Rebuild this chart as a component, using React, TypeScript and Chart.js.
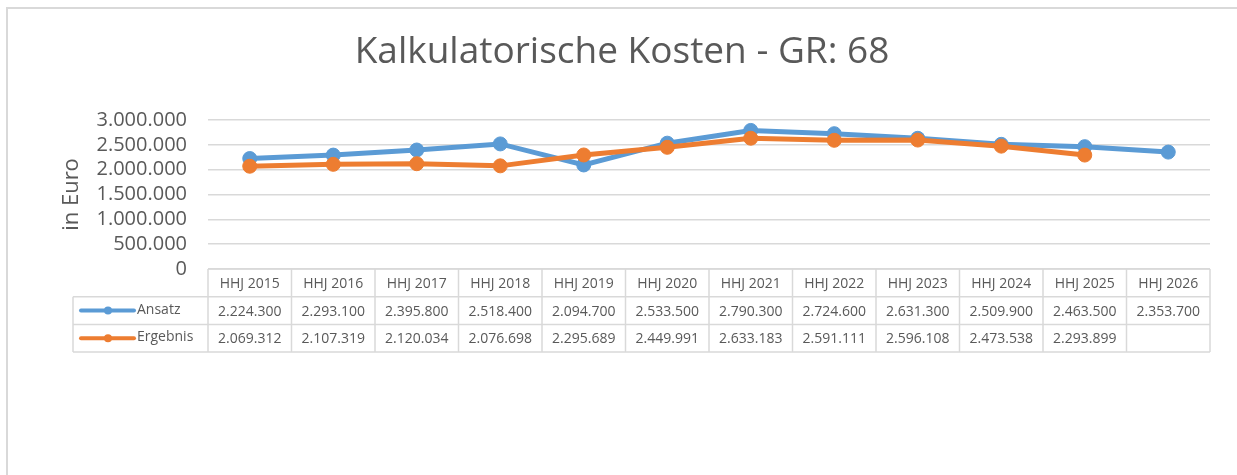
import { useEffect, useRef } from "react";
import { Chart, registerables } from "chart.js";

Chart.register(...registerables);

const titleText = "Kalkulatorische Kosten - GR: 68";
const yAxisTitle = "in Euro";
const categories = [
  "HHJ 2015", "HHJ 2016", "HHJ 2017", "HHJ 2018", "HHJ 2019", "HHJ 2020",
  "HHJ 2021", "HHJ 2022", "HHJ 2023", "HHJ 2024", "HHJ 2025", "HHJ 2026",
];
const seriesNames = ["Ansatz", "Ergebnis"];
const ansatz = [
  2224300, 2293100, 2395800, 2518400, 2094700, 2533500,
  2790300, 2724600, 2631300, 2509900, 2463500, 2353700,
];
const ergebnis: (number | null)[] = [
  2069312, 2107319, 2120034, 2076698, 2295689, 2449991,
  2633183, 2591111, 2596108, 2473538, 2293899, null,
];
const yMin = 0;
const yMax = 3000000;
const yStep = 500000;

const FONT = "'Open Sans', 'Noto Sans', sans-serif";
const TEXT = "#595959";
const GRID = "#D9D9D9";
const BLUE = "#5B9BD5";
const ORANGE = "#ED7D31";

const fmt = (v: number) =>
  String(Math.round(v)).replace(/\B(?=(\d{3})+(?!\d))/g, ".");

const framePlugin = {
  id: "frame",
  beforeDraw(chart: any) {
    const ctx = chart.ctx;
    ctx.save();
    ctx.strokeStyle = GRID;
    ctx.lineWidth = 2;
    ctx.strokeRect(7, 8, 1400, 1000);
    ctx.restore();
  },
};

const tablePlugin = {
  id: "dataTable",
  afterDraw(chart: any) {
    const { ctx, chartArea } = chart;
    const xs = chart.scales.x;
    const n = categories.length;
    const cw = (chartArea.right - chartArea.left) / n;
    const top = chartArea.bottom;
    const rowH = 27.7;
    const legendLeft = 73;
    const right = chartArea.right;
    const line = (x1: number, y1: number, x2: number, y2: number) => {
      ctx.beginPath();
      ctx.moveTo(x1, y1);
      ctx.lineTo(x2, y2);
      ctx.stroke();
    };
    ctx.save();
    ctx.strokeStyle = GRID;
    ctx.lineWidth = 1.5;
    line(chartArea.left, top, right, top);
    for (let r = 1; r <= 3; r++) line(legendLeft, top + r * rowH, right, top + r * rowH);
    line(legendLeft, top + rowH, legendLeft, top + 3 * rowH);
    for (let i = 0; i < n; i++) {
      const xl = xs.getPixelForValue(i) - cw / 2;
      line(xl, top, xl, top + 3 * rowH);
    }
    line(right, top, right, top + 3 * rowH);

    ctx.fillStyle = TEXT;
    ctx.font = `14px ${FONT}`;
    ctx.textAlign = "center";
    ctx.textBaseline = "middle";
    const series = [ansatz, ergebnis];
    for (let i = 0; i < n; i++) {
      const cx = xs.getPixelForValue(i);
      ctx.fillText(categories[i], cx, top + rowH / 2 + 1);
      for (let s = 0; s < series.length; s++) {
        const v = series[s][i];
        if (v !== null && v !== undefined) {
          ctx.fillText(fmt(v), cx, top + (s + 1.5) * rowH + 1);
        }
      }
    }
    const colors = [BLUE, ORANGE];
    for (let s = 0; s < seriesNames.length; s++) {
      const cy = top + (s + 1.5) * rowH;
      ctx.strokeStyle = colors[s];
      ctx.lineWidth = 4;
      ctx.lineCap = "round";
      line(81, cy, 134, cy);
      ctx.fillStyle = colors[s];
      ctx.beginPath();
      ctx.arc(108, cy, 4, 0, Math.PI * 2);
      ctx.fill();
      ctx.fillStyle = TEXT;
      ctx.textAlign = "left";
      ctx.fillText(seriesNames[s], 137, cy - 1);
    }
    ctx.restore();
  },
};

export default function App() {
  const ref = useRef<HTMLCanvasElement | null>(null);
  useEffect(() => {
    if (!ref.current) return;
    const chart = new Chart(ref.current, {
      type: "line",
      data: {
        labels: categories,
        datasets: [
          {
            label: seriesNames[0],
            data: ansatz,
            borderColor: BLUE,
            backgroundColor: BLUE,
            borderWidth: 5,
            pointRadius: 7,
            pointBorderWidth: 1,
            pointBackgroundColor: BLUE,
            pointBorderColor: BLUE,
            tension: 0,
            order: 2,
          },
          {
            label: seriesNames[1],
            data: ergebnis,
            borderColor: ORANGE,
            backgroundColor: ORANGE,
            borderWidth: 5,
            pointRadius: 7,
            pointBorderWidth: 1,
            pointBackgroundColor: ORANGE,
            pointBorderColor: ORANGE,
            tension: 0,
            order: 1,
          },
        ],
      },
      options: {
        animation: false,
        responsive: false,
        layout: { padding: { left: 34, top: 0, right: 27, bottom: 206 } },
        plugins: {
          legend: { display: false },
          tooltip: { enabled: false },
          title: {
            display: true,
            text: titleText,
            color: TEXT,
            font: { size: 37, family: FONT, weight: "normal" },
            padding: { top: 30, bottom: 45.6 },
          },
        },
        scales: {
          x: { type: "category", display: false, offset: true },
          y: {
            min: yMin,
            max: yMax,
            ticks: {
              stepSize: yStep,
              autoSkip: false,
              padding: 21,
              color: TEXT,
              font: { size: 20, family: FONT },
              callback: (v: any) => fmt(Number(v)),
            },
            grid: { color: GRID, lineWidth: 1.5, drawTicks: false },
            border: { display: false },
            title: {
              display: true,
              text: yAxisTitle,
              color: TEXT,
              font: { size: 22, family: FONT },
              padding: { top: 24.8, bottom: 0 },
            },
            afterFit: (scale: any) => {
              scale.width = 174;
            },
          },
        },
      },
      plugins: [framePlugin, tablePlugin],
    });
    return () => chart.destroy();
  }, []);
  return (
    <div style={{ position: "fixed", left: 0, top: 0, width: 1237, height: 475, background: "#fff" }}>
      <canvas ref={ref} width={1237} height={475} style={{ display: "block" }} />
    </div>
  );
}
